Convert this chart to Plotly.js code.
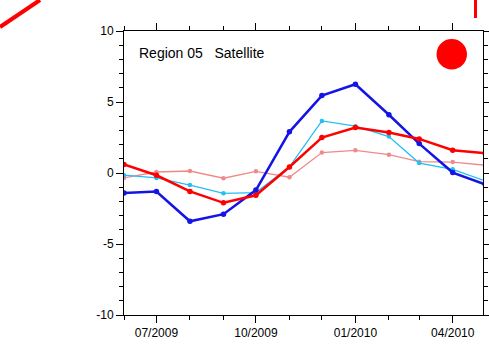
<!DOCTYPE html>
<html>
<head>
<meta charset="utf-8">
<script src="https://cdn.plot.ly/plotly-3.0.1.min.js"></script>
<style>
html,body{margin:0;padding:0;background:#fff;}
#chart{width:489px;height:346px;}
</style>
</head>
<body>
<div id="chart"></div>
<script>
var months = ['2009-06-01','2009-07-01','2009-08-01','2009-09-01','2009-10-01','2009-11-01',
              '2009-12-01','2010-01-01','2010-02-01','2010-03-01','2010-04-01','2010-05-01'];
var blueVals = [-1.4, -1.3, -3.4, -2.9, -1.2, 2.9, 5.45, 6.25, 4.1, 2.07, 0.03, -0.8];
var redVals  = [0.6, -0.16, -1.3, -2.1, -1.57, 0.42, 2.5, 3.2, 2.85, 2.4, 1.6, 1.4];
var cyanVals = [-0.15, -0.35, -0.85, -1.43, -1.38, 0.43, 3.67, 3.3, 2.57, 0.7, 0.26, -0.56];
var pinkVals = [-0.35, 0.07, 0.14, -0.37, 0.12, -0.3, 1.44, 1.6, 1.29, 0.8, 0.77, 0.55];
var xTickVals = ['2009-07-01','2009-10-01','2010-01-01','2010-04-01'];
var xTickText = ['07/2009','10/2009','01/2010','04/2010'];
var yTickVals = [-10, -5, 0, 5, 10];
var yTickText = ['-10', '-5', '0', '5', '10'];
var labelText = 'Region 05&nbsp;&nbsp;&nbsp;Satellite';

var traces = [
  {x: months, y: pinkVals, mode: 'lines+markers', line: {color: '#f08a8a', width: 1.3},
   marker: {color: '#f08a8a', size: 4.5}},
  {x: months, y: cyanVals, mode: 'lines+markers', line: {color: '#22c0f2', width: 1.3},
   marker: {color: '#22c0f2', size: 4.5}},
  {x: months, y: blueVals, mode: 'lines+markers', line: {color: '#1414e6', width: 2.5},
   marker: {color: '#1414e6', size: 5.5}},
  {x: months, y: redVals, mode: 'lines+markers', line: {color: '#ff0000', width: 2.5},
   marker: {color: '#ff0000', size: 5.5}}
];

var axisCommon = {
  showline: true, linecolor: '#000', linewidth: 1, mirror: 'allticks',
  ticks: 'outside', ticklen: 7, tickwidth: 1, tickcolor: '#000',
  showgrid: false, zeroline: false,
  tickfont: {family: 'Liberation Sans, Arial, sans-serif', size: 12, color: '#000'}
};

var layout = {
  width: 489, height: 346,
  margin: {l: 124, r: 6, t: 31, b: 31},
  paper_bgcolor: '#fff', plot_bgcolor: '#fff',
  showlegend: false,
  xaxis: Object.assign({}, axisCommon, {
    type: 'date', range: ['2009-06-01', '2010-04-29'],
    tickmode: 'array', tickvals: xTickVals, ticktext: xTickText,
    minor: {dtick: 'M1', tick0: '2009-06-01', ticks: 'outside', ticklen: 4, tickcolor: '#000', showgrid: false}
  }),
  yaxis: Object.assign({}, axisCommon, {
    range: [-10, 10], tickmode: 'array', tickvals: yTickVals, ticktext: yTickText,
    minor: {dtick: 1, tick0: 0, ticks: 'outside', ticklen: 4, tickcolor: '#000', showgrid: false}
  }),
  annotations: [{
    xref: 'paper', yref: 'paper', x: 13/359, y: (315-53)/284, xanchor: 'left', yanchor: 'middle',
    text: labelText, showarrow: false,
    font: {family: 'Liberation Sans, Arial, sans-serif', size: 14, color: '#000'}
  }],
  shapes: [
    {type: 'line', xref: 'paper', yref: 'paper',
     x0: (0-124)/359, y0: (315-27)/284, x1: (40-124)/359, y1: (315-0)/284,
     line: {color: '#ff0000', width: 4}},
    {type: 'rect', xref: 'paper', yref: 'paper',
     x0: (474-124)/359, y0: (315-18)/284, x1: (477-124)/359, y1: (315-0)/284,
     fillcolor: '#ff0000', line: {width: 0}},
    {type: 'circle', xref: 'paper', yref: 'paper',
     x0: (436.5-124)/359, y0: (315-69.5)/284, x1: (467-124)/359, y1: (315-39)/284,
     fillcolor: '#ff0000', line: {width: 0}}
  ]
};

Plotly.newPlot('chart', traces, layout, {staticPlot: true, displayModeBar: false});
</script>
</body>
</html>
